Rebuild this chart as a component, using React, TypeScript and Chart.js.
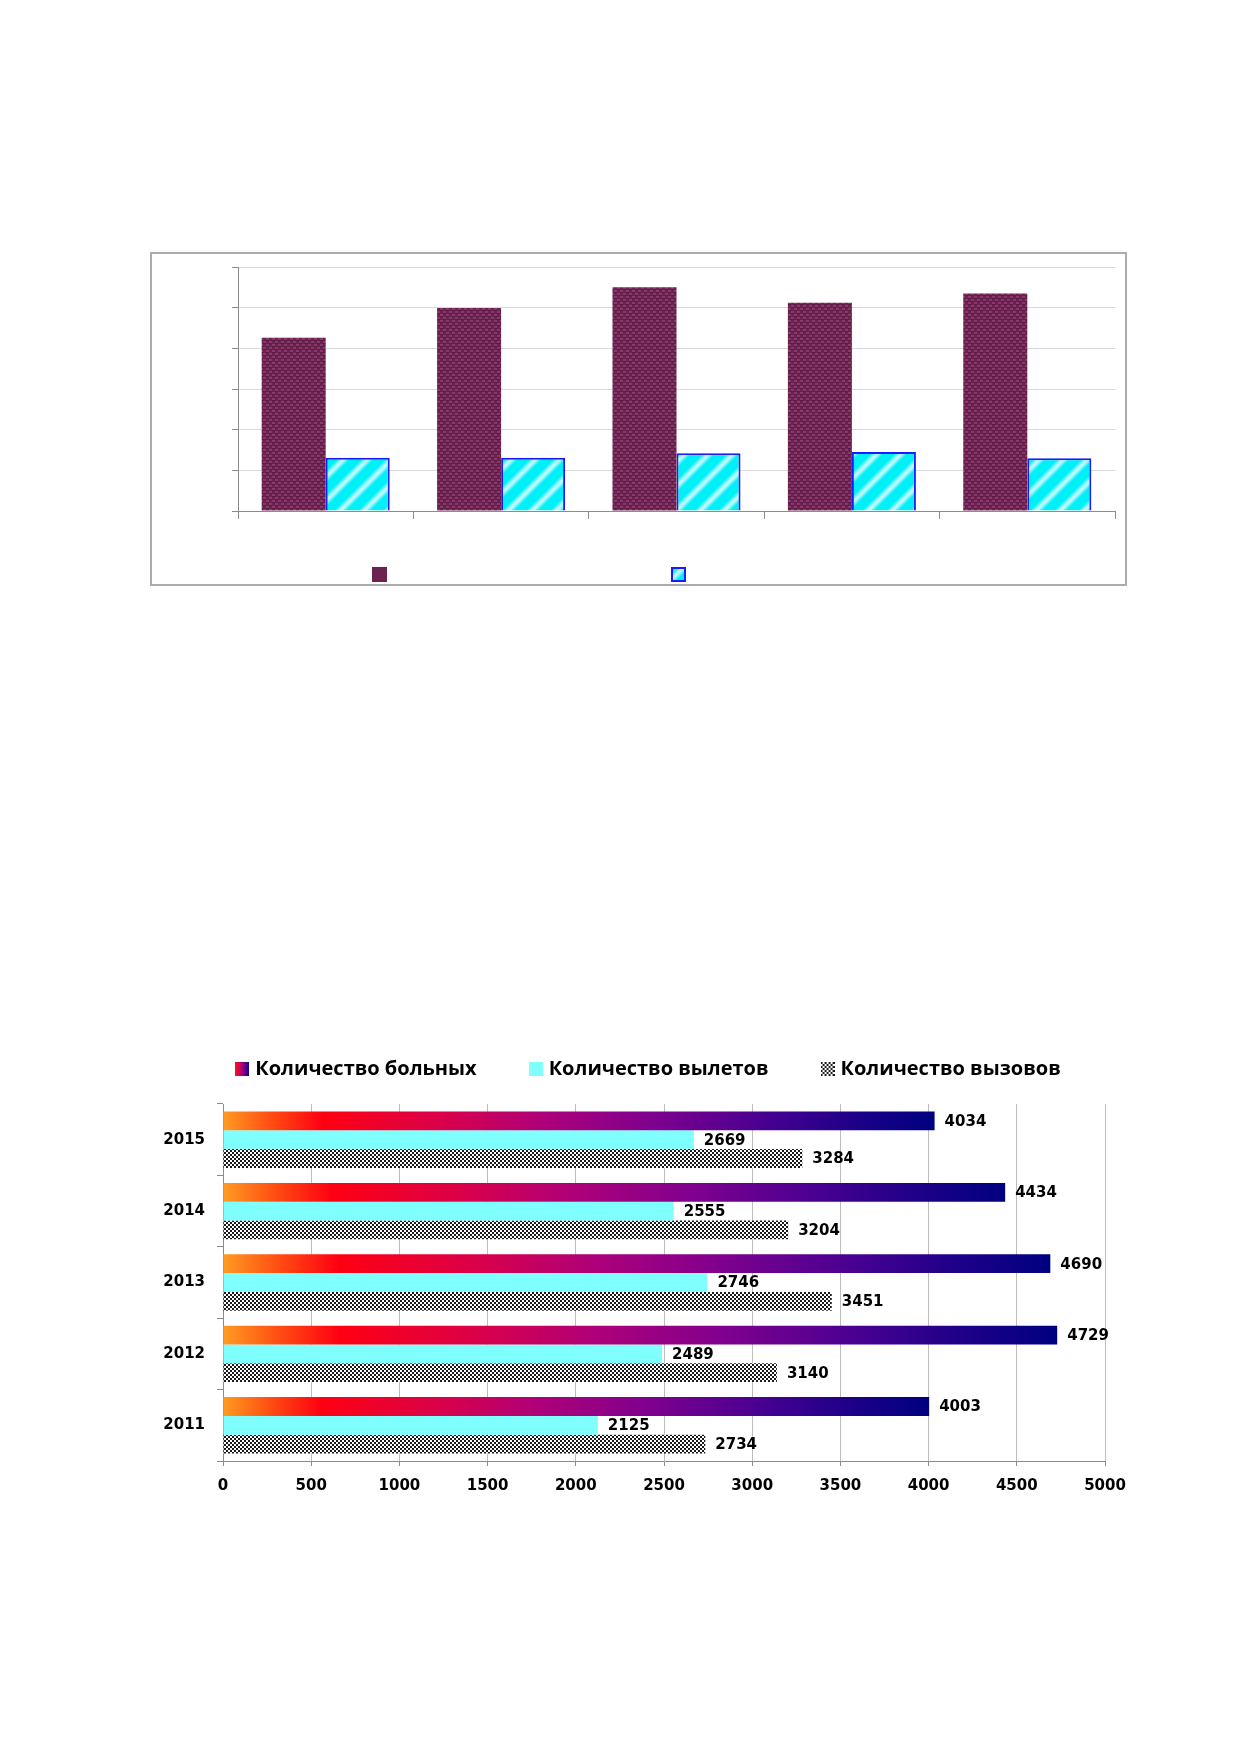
import React, { useEffect, useRef } from 'react';
import { Chart, registerables } from 'chart.js';

Chart.register(...registerables);

// ---------- Top chart data ----------
const topCategories = ['2011', '2012', '2013', '2014', '2015'];
const topSeriesA = [426, 499, 550, 512, 535];
const topSeriesB = [131, 131, 142, 145, 130];
const topMax = 600;
const topStep = 100;

// ---------- Bottom chart data ----------
const years = ['2011', '2012', '2013', '2014', '2015'];
const patients = [4003, 4729, 4690, 4434, 4034];
const flights = [2125, 2489, 2746, 2555, 2669];
const calls = [2734, 3140, 3451, 3204, 3284];
const seriesNames = ['Количество больных', 'Количество вылетов', 'Количество вызовов'];
const xMax = 5000;
const xStep = 500;

const FONT = '"Open Sans", "Noto Sans", sans-serif';
const NUM_FONT = '"DejaVu Sans", "Open Sans", sans-serif';

const gradStops: [number, string][] = [
  [0, '#ff9c22'],
  [0.07, '#ff4a12'],
  [0.14, '#ff0012'],
  [0.3, '#dc0048'],
  [0.45, '#ae007a'],
  [0.6, '#80008e'],
  [0.75, '#4c0092'],
  [0.9, '#1a0088'],
  [1, '#000080'],
];

function makeCanvas(w: number, h: number) {
  const c = document.createElement('canvas');
  c.width = w;
  c.height = h;
  return c;
}

function maroonTile() {
  const c = makeCanvas(6, 6);
  const g = c.getContext('2d')!;
  g.fillStyle = '#6a2250';
  g.fillRect(0, 0, 6, 6);
  g.fillStyle = '#8a376a';
  g.fillRect(0, 0, 3, 2);
  g.fillRect(3, 3, 3, 2);
  g.fillStyle = '#5a1a44';
  g.fillRect(0, 2, 3, 1);
  g.fillRect(3, 5, 3, 1);
  return c;
}

function stripeTile() {
  const S = 24;
  const c = makeCanvas(S, S);
  const g = c.getContext('2d')!;
  const img = g.createImageData(S, S);
  for (let y = 0; y < S; y++) {
    for (let x = 0; x < S; x++) {
      const u = ((x + y) % S) / S;
      const d = Math.abs(u - 0.5);
      let w = Math.max(0, 1 - d / 0.3);
      w = w * w * (3 - 2 * w) * 0.85;
      const base = [0, 240, 248];
      const peak = [225, 250, 255];
      const i = (y * S + x) * 4;
      img.data[i] = base[0] + (peak[0] - base[0]) * w;
      img.data[i + 1] = base[1] + (peak[1] - base[1]) * w;
      img.data[i + 2] = base[2] + (peak[2] - base[2]) * w;
      img.data[i + 3] = 255;
    }
  }
  g.putImageData(img, 0, 0);
  return c;
}

function checkerTile() {
  const c = makeCanvas(4, 4);
  const g = c.getContext('2d')!;
  g.fillStyle = '#ffffff';
  g.fillRect(0, 0, 4, 4);
  g.fillStyle = '#1a1a1a';
  g.fillRect(0, 0, 2, 2);
  g.fillRect(2, 2, 2, 2);
  return c;
}

function squareFrom(fill: (g: CanvasRenderingContext2D, s: number) => void, s: number) {
  const c = makeCanvas(s, s);
  const g = c.getContext('2d')!;
  fill(g, s);
  return c;
}

const topLegendPlugin = {
  id: 'topLegend',
  afterDraw(chart: any, _args: any, opts: any) {
    const ctx = chart.ctx;
    (opts.items || []).forEach((it: any) => {
      ctx.drawImage(it.img, it.x, it.y);
    });
  },
};

const valueLabelPlugin = {
  id: 'valueLabels',
  afterDatasetsDraw(chart: any) {
    const ctx = chart.ctx;
    ctx.save();
    ctx.font = `bold 15px ${NUM_FONT}`;
    ctx.fillStyle = '#000';
    ctx.textBaseline = 'middle';
    ctx.textAlign = 'left';
    chart.data.datasets.forEach((ds: any, i: number) => {
      const meta = chart.getDatasetMeta(i);
      meta.data.forEach((el: any, j: number) => {
        ctx.fillText(String(ds.data[j]), el.x + 10, el.y + 1);
      });
    });
    ctx.restore();
  },
};

function TopChart() {
  const ref = useRef<HTMLCanvasElement>(null);
  useEffect(() => {
    const ctx = ref.current!.getContext('2d')!;
    const maroon = ctx.createPattern(maroonTile(), 'repeat')!;
    const stripes = ctx.createPattern(stripeTile(), 'repeat')!;
    const legMaroon = squareFrom((g, s) => {
      g.fillStyle = '#6d2352';
      g.fillRect(0, 0, s, s);
    }, 15);
    const legCyan = squareFrom((g, s) => {
      g.fillStyle = g.createPattern(stripeTile(), 'repeat')!;
      g.fillRect(0, 0, s, s);
      g.strokeStyle = '#1a1aff';
      g.lineWidth = 2;
      g.strokeRect(1, 1, s - 2, s - 2);
    }, 15);
    const chart = new Chart(ref.current!, {
      type: 'bar',
      data: {
        labels: topCategories,
        datasets: [
          {
            data: topSeriesA,
            backgroundColor: maroon as any,
            borderWidth: 0,
            barPercentage: 1,
            categoryPercentage: 0.73,
          },
          {
            data: topSeriesB,
            backgroundColor: stripes as any,
            borderColor: '#1a1aff',
            borderWidth: 2,
            barPercentage: 1,
            categoryPercentage: 0.73,
          },
        ],
      },
      options: {
        responsive: false,
        animation: false,
        layout: { padding: { left: 80, right: 10, top: 13, bottom: 63 } },
        plugins: {
          legend: { display: false },
          tooltip: { enabled: false },
          topLegend: {
            items: [
              { img: legMaroon, x: 220, y: 313 },
              { img: legCyan, x: 519, y: 313 },
            ],
          },
        } as any,
        scales: {
          x: {
            grid: {
              offset: true,
              drawOnChartArea: false,
              drawTicks: true,
              tickLength: 8,
              tickColor: '#8c8c8c',
            },
            border: { display: true, color: '#8c8c8c', width: 1 },
            ticks: { display: false },
            afterFit: (s: any) => {
              s.height = 10;
            },
          },
          y: {
            min: 0,
            max: topMax,
            ticks: { display: false, stepSize: topStep },
            grid: {
              color: '#d9d9d9',
              tickLength: 6,
              tickColor: '#8c8c8c',
              drawTicks: true,
            },
            border: { display: true, color: '#8c8c8c', width: 1 },
            afterFit: (s: any) => {
              s.width = 6;
            },
          },
        },
      },
      plugins: [topLegendPlugin],
    });
    return () => chart.destroy();
  }, []);
  return (
    <div
      style={{
        position: 'absolute',
        left: 150,
        top: 252,
        width: 977,
        height: 334,
        boxSizing: 'border-box',
        border: '2px solid #acacac',
        background: '#fff',
      }}
    >
      <canvas ref={ref} width={973} height={330} style={{ display: 'block' }} />
    </div>
  );
}

function BottomChart() {
  const ref = useRef<HTMLCanvasElement>(null);
  useEffect(() => {
    const ctx = ref.current!.getContext('2d')!;
    const checker = ctx.createPattern(checkerTile(), 'repeat')!;
    const legImgs = [
      squareFrom((g, s) => {
        const gr = g.createLinearGradient(0, 0, s, 0);
        gr.addColorStop(0, '#ff1010');
        gr.addColorStop(0.45, '#b0007a');
        gr.addColorStop(1, '#10008a');
        g.fillStyle = gr;
        g.fillRect(0, 0, s, s);
      }, 14),
      squareFrom((g, s) => {
        g.fillStyle = '#80ffff';
        g.fillRect(0, 0, s, s);
      }, 14),
      squareFrom((g, s) => {
        g.fillStyle = g.createPattern(checkerTile(), 'repeat')!;
        g.fillRect(0, 0, s, s);
      }, 14),
    ];
    const gradientFill = (c: any) => {
      if (c.type !== 'data') return '#c00040';
      const ch = c.chart;
      const xs = ch.scales && ch.scales.x;
      if (!xs) return '#c00040';
      const x0 = xs.getPixelForValue(0);
      const x1 = xs.getPixelForValue(c.raw as number);
      if (!isFinite(x0) || !isFinite(x1) || x1 <= x0) return '#c00040';
      const g = ch.ctx.createLinearGradient(x0, 0, x1, 0);
      gradStops.forEach(([o, col]) => g.addColorStop(o, col));
      return g;
    };
    const common = { barPercentage: 1, categoryPercentage: 0.79, borderWidth: 0 };
    const chart = new Chart(ref.current!, {
      type: 'bar',
      data: {
        labels: years,
        datasets: [
          { label: seriesNames[0], data: patients, backgroundColor: gradientFill as any, ...common },
          { label: seriesNames[1], data: flights, backgroundColor: '#80ffff', ...common },
          { label: seriesNames[2], data: calls, backgroundColor: checker as any, ...common },
        ],
      },
      options: {
        indexAxis: 'y',
        responsive: false,
        animation: false,
        layout: { padding: { left: 0, right: 10, top: 3, bottom: 19 } },
        plugins: {
          tooltip: { enabled: false },
          legend: {
            display: true,
            position: 'top',
            labels: {
              usePointStyle: true,
              pointStyleWidth: 6,
              padding: 56,
              color: '#000',
              font: { family: FONT, size: 20, weight: 'bold' },
              generateLabels: () =>
                seriesNames.map((t, i) => ({
                  text: t,
                  pointStyle: legImgs[i] as any,
                  fillStyle: 'transparent',
                  strokeStyle: 'transparent',
                  lineWidth: 0,
                  hidden: false,
                  datasetIndex: i,
                })),
            },
          } as any,
        },
        scales: {
          x: {
            min: 0,
            max: xMax,
            ticks: {
              stepSize: xStep,
              color: '#000',
              padding: 11,
              font: { family: NUM_FONT, size: 15, weight: 'bold' },
              callback: (v: any) => String(v),
            },
            grid: {
              color: '#bdbdbd',
              tickLength: 5,
              tickColor: '#8c8c8c',
            },
            border: { display: true, color: '#8c8c8c', width: 1 },
            afterFit: (s: any) => {
              s.height = 40;
            },
          },
          xSpacer: {
            type: 'category',
            position: 'top',
            display: true,
            grid: { display: false, drawTicks: false },
            border: { display: false },
            ticks: { display: false },
            afterFit: (s: any) => {
              s.height = 15;
            },
          },
          y: {
            type: 'category',
            reverse: true,
            ticks: {
              color: '#000',
              padding: 12,
              font: { family: NUM_FONT, size: 15, weight: 'bold' },
              callback: (v: any) => years[Number(v)],
            },
            grid: {
              offset: true,
              drawOnChartArea: false,
              tickLength: 6,
              tickColor: '#8c8c8c',
            },
            border: { display: true, color: '#8c8c8c', width: 1 },
            afterFit: (s: any) => {
              s.width = 83;
            },
          },
          ySpacer: {
            type: 'category',
            position: 'right',
            display: true,
            grid: { display: false, drawTicks: false },
            border: { display: false },
            ticks: { display: false },
            afterFit: (s: any) => {
              s.width = 55;
            },
          },
        } as any,
      },
      plugins: [valueLabelPlugin],
    });
    return () => chart.destroy();
  }, []);
  return (
    <div style={{ position: 'absolute', left: 140, top: 1000, width: 1030, height: 520 }}>
      <canvas ref={ref} width={1030} height={520} style={{ display: 'block' }} />
    </div>
  );
}

export default function App() {
  return (
    <div
      style={{
        position: 'absolute',
        left: 0,
        top: 0,
        width: 1239,
        height: 1752,
        background: '#fff',
        overflow: 'hidden',
      }}
    >
      <TopChart />
      <BottomChart />
    </div>
  );
}
